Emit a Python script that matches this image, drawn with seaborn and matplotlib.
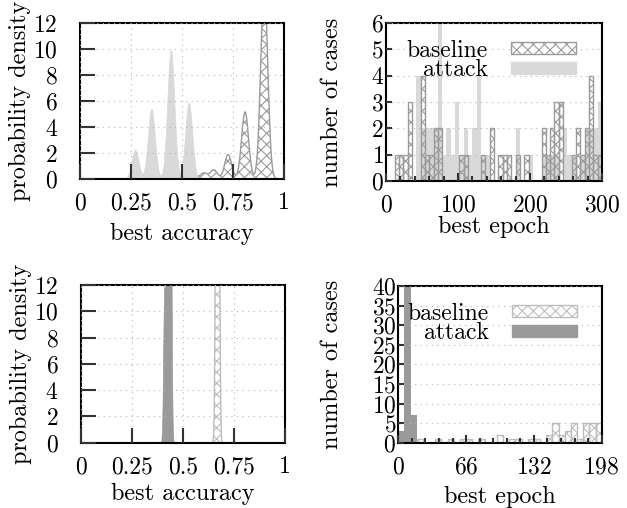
import numpy as np
import matplotlib
matplotlib.use("Agg")
import matplotlib.pyplot as plt
from matplotlib.patches import Patch
from matplotlib.ticker import MultipleLocator
import seaborn as sns

plt.rcParams['font.family'] = ['cmr10', 'DejaVu Serif']
plt.rcParams['axes.formatter.use_mathtext'] = True
plt.rcParams['hatch.linewidth'] = 0.8
FS = 17
FS_LABEL = 17.5

# ---- best accuracy (mass of each accuracy cluster) ----
acc_top_attack = [0.270, 0.350, 0.445, 0.533]
w_top_attack = [5, 12, 22, 13]
acc_top_base = [0.549, 0.607, 0.656, 0.726, 0.809, 0.903]
w_top_base = [1, 1, 1.5, 4, 11, 31.5]

acc_bot_attack = [0.409, 0.424, 0.438]
w_bot_attack = [1, 3, 3]
acc_bot_base = [0.664, 0.670, 0.676]
w_bot_base = [1, 2, 1]

# ---- best epoch histograms (bin centres, counts) ----
ep_top_base = [15, 21, 27, 33, 51, 57, 63, 69, 75, 105, 111, 135, 147, 159, 165,
               171, 183, 195, 219, 225, 231, 237, 243, 261, 267, 273, 279, 285, 291, 297]
n_top_base = [1, 1, 1, 3, 4, 1, 1, 2, 2, 1, 1, 1, 2, 1, 1,
              1, 1, 1, 2, 1, 2, 3, 3, 1, 2, 1, 2, 4, 1, 1]
ep_top_attack = [45, 51, 57, 63, 69, 75, 81, 87, 93, 99, 105, 111, 117, 123, 129, 135,
                 141, 183, 201, 219, 225, 231, 237, 249, 255, 261, 273, 279, 285, 291, 297]
n_top_attack = [4, 2, 2, 2, 2, 6, 1, 2, 1, 3, 1, 2, 1, 2, 4, 1,
                1, 2, 1, 1, 1, 1, 1, 2, 1, 1, 1, 2, 2, 2, 3]

ep_bot_base = [21, 39, 51, 63, 69, 81, 99, 111, 117, 129, 135, 147, 153, 159, 165,
               171, 177, 183, 189, 195]
n_bot_base = [1, 1, 1, 1, 1, 1, 2, 1, 1, 1, 1, 2, 5, 2, 3,
              5, 1, 5, 5, 5]
ep_bot_attack = [3, 9, 15]
n_bot_attack = [3, 40, 7]

LIGHT = '#d9d9d9'
DARK = '#9a9a9a'
HATCH_TOP = '#9a9a9a'
HATCH_BOT = '#bdbdbd'
GRID = dict(color='#b5b5b5', linestyle=(0, (1, 4)), linewidth=0.8)


def density(ax, acc, w, bw, **kw):
    acc = np.asarray(acc)
    w = np.asarray(w, dtype=float)
    sd = np.sqrt(np.cov(acc, aweights=w))
    sns.kdeplot(x=acc, weights=w, bw_method=bw / sd, fill=True,
                gridsize=2000, cut=5, ax=ax, **kw)


def style(ax, left_plot):
    for s in ax.spines.values():
        s.set_linewidth(1.5)
        s.set_color('black')
    ax.set_axisbelow(False)
    ax.tick_params(which='both', direction='in', top=False, right=False,
                   color='#333333', labelcolor='black', labelsize=FS, width=1.5)
    if left_plot:
        ax.tick_params(axis='both', which='major', length=10.5)
        ax.tick_params(axis='x', pad=9.5)
        ax.tick_params(axis='y', pad=16)
    else:
        ax.tick_params(axis='y', which='major', length=4.3, pad=1.5)
        ax.tick_params(axis='x', which='major', length=6, pad=9.5)
        ax.tick_params(axis='x', which='minor', length=3.8)


def legend(ax, base_edge, attack_face):
    handles = [Patch(facecolor='white', edgecolor=base_edge, hatch='xxx', linewidth=1),
               Patch(facecolor=attack_face, edgecolor=attack_face)]
    ax.legend(handles, ['baseline', 'attack'], loc='upper right',
              bbox_to_anchor=(0.88, 0.895), frameon=False, markerfirst=False,
              fontsize=FS, handlelength=2.75, handleheight=0.42,
              handletextpad=1.0, labelspacing=-0.1, borderpad=0, borderaxespad=0)


fig = plt.figure(figsize=(6.27, 5.08), dpi=100)
ax_tl = fig.add_axes([0.1276, 0.6476, 0.3254, 0.307])
ax_tr = fig.add_axes([0.6156, 0.6437, 0.3445, 0.311])
ax_bl = fig.add_axes([0.1287, 0.1285, 0.3257, 0.3105])
ax_br = fig.add_axes([0.6352, 0.1285, 0.3244, 0.3085])

# ---- left column: densities ----
density(ax_tl, acc_top_base, w_top_base, 0.017, color=HATCH_TOP, facecolor='none',
        edgecolor=HATCH_TOP, hatch='xxx', linewidth=1)
density(ax_tl, acc_top_attack, w_top_attack, 0.017, color=LIGHT, facecolor=LIGHT,
        edgecolor=LIGHT, linewidth=0.5)
density(ax_bl, acc_bot_base, w_bot_base, 0.005, color=HATCH_BOT, facecolor='none',
        edgecolor=HATCH_BOT, hatch='xxx', linewidth=1)
density(ax_bl, acc_bot_attack, w_bot_attack, 0.005, color=DARK, facecolor=DARK,
        edgecolor=DARK, linewidth=0.5)

for ax in (ax_tl, ax_bl):
    ax.set_xlim(0, 1)
    ax.set_ylim(0, 12)
    ax.set_xticks([0, 0.25, 0.5, 0.75, 1])
    ax.set_xticklabels(['0', '0.25', '0.5', '0.75', '1'])
    ax.set_yticks(range(0, 13, 2))
    ax.grid(True, **GRID)
    style(ax, True)
    ax.set_xlabel('best accuracy', fontsize=FS_LABEL)
    ax.set_ylabel('probability density', fontsize=FS_LABEL)

# ---- right column: histograms ----
edges_top = list(range(0, 301, 6))
edges_bot = list(range(0, 199, 6))
sns.histplot(x=ep_top_attack, weights=n_top_attack, bins=edges_top, ax=ax_tr,
             color=LIGHT, facecolor=LIGHT, edgecolor=LIGHT, linewidth=0, zorder=1)
sns.histplot(x=ep_top_base, weights=n_top_base, bins=edges_top, ax=ax_tr,
             color=HATCH_TOP, facecolor='none', edgecolor=HATCH_TOP, hatch='xxx',
             linewidth=1, zorder=2)
sns.histplot(x=ep_bot_attack, weights=n_bot_attack, bins=edges_bot, ax=ax_br,
             color=DARK, facecolor=DARK, edgecolor=DARK, linewidth=0, zorder=1)
sns.histplot(x=ep_bot_base, weights=n_bot_base, bins=edges_bot, ax=ax_br,
             color=HATCH_BOT, facecolor='none', edgecolor=HATCH_BOT, hatch='xxx',
             linewidth=1, zorder=2)

ax_tr.set_xlim(0, 300)
ax_tr.set_ylim(0, 6)
ax_tr.set_xticks([0, 100, 200, 300])
ax_tr.xaxis.set_minor_locator(MultipleLocator(20))
ax_tr.set_yticks(range(0, 7))
ax_br.set_xlim(0, 198)
ax_br.set_ylim(0, 40)
ax_br.set_xticks([0, 66, 132, 198])
ax_br.xaxis.set_minor_locator(MultipleLocator(13.2))
ax_br.set_yticks(range(0, 41, 5))

for ax in (ax_tr, ax_br):
    ax.grid(True, axis='y', **GRID)
    style(ax, False)
    ax.set_xlabel('best epoch', fontsize=FS_LABEL)
    ax.set_ylabel('number of cases', fontsize=FS_LABEL)

legend(ax_tr, HATCH_TOP, LIGHT)
legend(ax_br, HATCH_BOT, DARK)

ax_tl.yaxis.set_label_coords(-0.24, 0.5)
ax_bl.yaxis.set_label_coords(-0.24, 0.5)
ax_tr.yaxis.set_label_coords(-0.198, 0.5)
ax_br.yaxis.set_label_coords(-0.272, 0.5)
ax_tl.xaxis.set_label_coords(0.5, -0.282)
ax_bl.xaxis.set_label_coords(0.5, -0.252)
ax_tr.xaxis.set_label_coords(0.5, -0.218)
ax_br.xaxis.set_label_coords(0.5, -0.277)

fig.savefig('out.png', dpi=100)
